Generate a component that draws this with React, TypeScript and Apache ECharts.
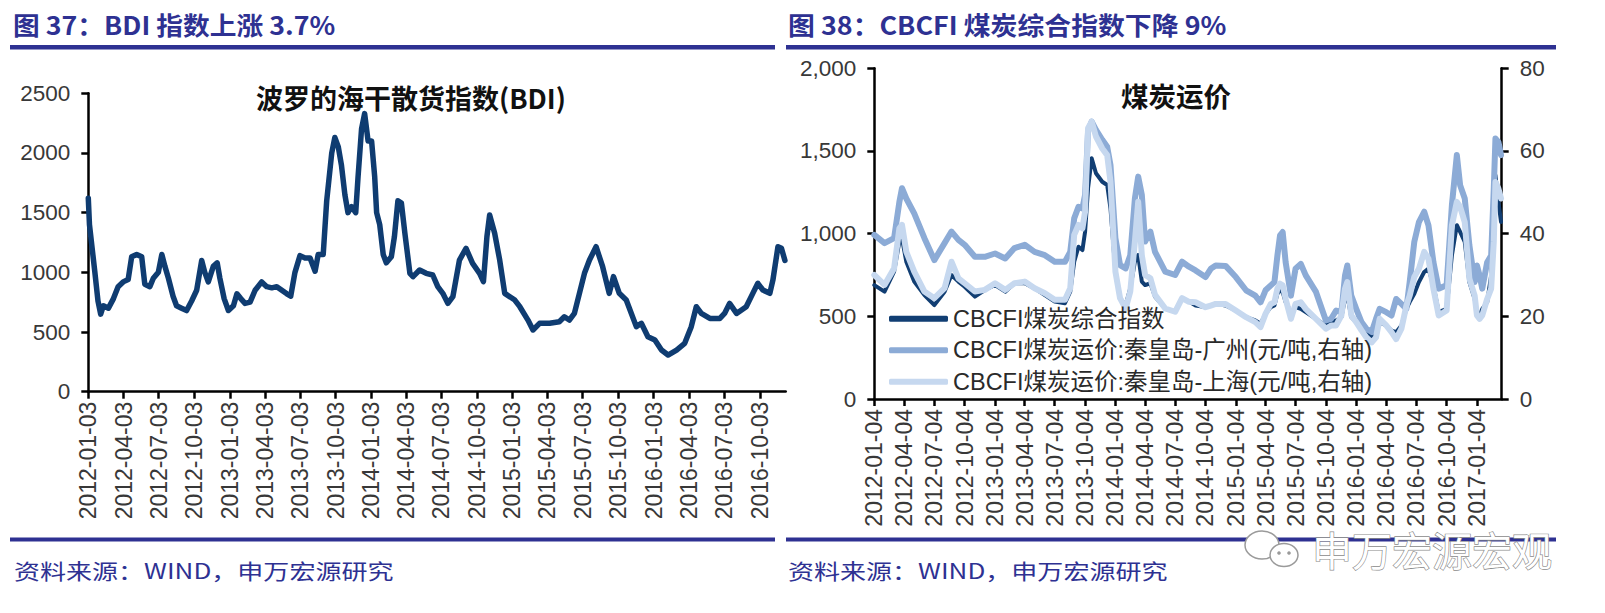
import React, { useEffect, useRef } from "react";
import * as echarts from "echarts";

// ---------------- DATA ----------------
const BDI_TICKS = [
  "2012-01-03", "2012-04-03", "2012-07-03", "2012-10-03",
  "2013-01-03", "2013-04-03", "2013-07-03", "2013-10-03",
  "2014-01-03", "2014-04-03", "2014-07-03", "2014-10-03",
  "2015-01-03", "2015-04-03", "2015-07-03", "2015-10-03",
  "2016-01-03", "2016-04-03", "2016-07-03", "2016-10-03",
];

const BDI_DATES = [
  "2012-01-03", "2012-01-06", "2012-01-13", "2012-01-20", "2012-01-28", "2012-02-04", "2012-02-11", "2012-02-24",
  "2012-03-08", "2012-03-20", "2012-04-02", "2012-04-15", "2012-04-24", "2012-05-07", "2012-05-20", "2012-05-28",
  "2012-06-10", "2012-06-19", "2012-07-02", "2012-07-11", "2012-07-19", "2012-07-28", "2012-08-09", "2012-08-18",
  "2012-08-31", "2012-09-13", "2012-09-26", "2012-10-09", "2012-10-22", "2012-10-30", "2012-11-08", "2012-11-21",
  "2012-12-01", "2012-12-08", "2012-12-19", "2012-12-30",
  "2013-01-12", "2013-01-21", "2013-01-31", "2013-02-11", "2013-02-24", "2013-03-09", "2013-03-26", "2013-04-08",
  "2013-04-21", "2013-05-04", "2013-05-17", "2013-05-30", "2013-06-09", "2013-06-20", "2013-07-03", "2013-07-16",
  "2013-07-29", "2013-08-11", "2013-08-19", "2013-09-01", "2013-09-10", "2013-09-23", "2013-10-01", "2013-10-10",
  "2013-10-18", "2013-10-27", "2013-11-04", "2013-11-13", "2013-11-24", "2013-11-30", "2013-12-09", "2013-12-17",
  "2013-12-26",
  "2014-01-04", "2014-01-12", "2014-01-17", "2014-01-25", "2014-02-03", "2014-02-11", "2014-02-24", "2014-03-04",
  "2014-03-13", "2014-03-22", "2014-03-31", "2014-04-13", "2014-04-21", "2014-05-08", "2014-05-25", "2014-06-11",
  "2014-06-24", "2014-07-07", "2014-07-20", "2014-08-02", "2014-08-19", "2014-09-05", "2014-09-22", "2014-10-10",
  "2014-10-20", "2014-10-29", "2014-11-05", "2014-11-18", "2014-12-01", "2014-12-14",
  "2015-01-09", "2015-01-22", "2015-02-12", "2015-02-25", "2015-03-14", "2015-04-09", "2015-05-04", "2015-05-17",
  "2015-05-30", "2015-06-12", "2015-06-25", "2015-07-08", "2015-07-21", "2015-08-07", "2015-08-24", "2015-09-10",
  "2015-09-21", "2015-10-06", "2015-10-24", "2015-11-19", "2015-12-02", "2015-12-19",
  "2016-01-06", "2016-01-23", "2016-02-09", "2016-03-02", "2016-03-23", "2016-04-09", "2016-04-22", "2016-05-05",
  "2016-05-27", "2016-06-22", "2016-07-04", "2016-07-17", "2016-08-04", "2016-08-29", "2016-09-15", "2016-09-28",
  "2016-10-11", "2016-10-29", "2016-11-06", "2016-11-19", "2016-11-28", "2016-12-07",
];

const BDI_VALUES = [
  1620, 1400, 1200, 1000, 760, 650, 720, 700,
  780, 880, 920, 940, 1130, 1150, 1130, 900,
  880, 950, 1000, 1150, 1050, 950, 800, 720,
  700, 680, 760, 850, 1100, 1000, 920, 1050,
  1080, 950, 780, 680,
  720, 820, 780, 740, 750, 850, 920, 880,
  870, 880, 850, 820, 800, 1000, 1140, 1120,
  1120, 1010, 1150, 1150, 1600, 2000, 2130, 2050,
  1900, 1650, 1500, 1550, 1500, 1800, 2200, 2330,
  2100,
  2100, 1800, 1500, 1400, 1150, 1080, 1130, 1300,
  1600, 1580, 1327, 992, 964, 1020, 992, 978,
  880, 824, 740, 796, 1103, 1201, 1075, 992,
  922, 1299, 1480, 1327, 1103, 824,
  768, 712, 600, 517, 573, 573, 586, 628,
  600, 656, 824, 992, 1103, 1215, 1047, 824,
  964, 824, 768, 545, 573, 461,
  433, 349, 307, 349, 405, 545, 712, 656,
  614, 614, 656, 740, 656, 712, 824, 908,
  852, 824, 936, 1215, 1201, 1100,
];

const CB_TICKS = [
  "2012-01-04", "2012-04-04", "2012-07-04", "2012-10-04",
  "2013-01-04", "2013-04-04", "2013-07-04", "2013-10-04",
  "2014-01-04", "2014-04-04", "2014-07-04", "2014-10-04",
  "2015-01-04", "2015-04-04", "2015-07-04", "2015-10-04",
  "2016-01-04", "2016-04-04", "2016-07-04", "2016-10-04",
  "2017-01-04",
];

const CB_DATES = [
  "2012-01-04", "2012-02-04", "2012-03-04", "2012-03-20", "2012-03-28", "2012-04-10", "2012-05-04", "2012-06-04",
  "2012-07-04", "2012-08-04", "2012-08-25", "2012-09-15", "2012-10-04", "2012-11-04", "2012-12-04",
  "2013-01-04", "2013-02-04", "2013-03-04", "2013-04-04", "2013-05-04", "2013-06-04", "2013-07-04", "2013-08-04",
  "2013-08-20", "2013-09-01", "2013-09-14", "2013-09-26", "2013-10-04", "2013-10-13", "2013-10-24", "2013-11-06",
  "2013-11-25", "2013-12-10", "2013-12-20",
  "2014-01-04", "2014-01-18", "2014-02-04", "2014-02-18", "2014-03-04", "2014-03-14", "2014-03-25", "2014-04-04",
  "2014-04-20", "2014-05-04", "2014-06-04", "2014-07-04", "2014-07-25", "2014-08-15", "2014-09-04", "2014-10-04",
  "2014-10-20", "2014-11-04", "2014-12-04",
  "2015-01-04", "2015-02-04", "2015-03-04", "2015-03-20", "2015-04-04", "2015-04-20", "2015-05-01", "2015-05-10",
  "2015-05-18", "2015-05-26", "2015-06-04", "2015-06-20", "2015-07-04", "2015-07-20", "2015-08-04", "2015-09-04",
  "2015-10-04", "2015-10-20", "2015-11-04", "2015-11-20", "2015-12-01", "2015-12-08", "2015-12-20",
  "2016-01-04", "2016-01-20", "2016-02-04", "2016-02-20", "2016-03-04", "2016-03-15", "2016-04-04", "2016-04-20",
  "2016-05-04", "2016-05-20", "2016-06-04", "2016-06-14", "2016-06-28", "2016-07-12", "2016-07-28", "2016-08-10",
  "2016-08-25", "2016-09-10", "2016-10-04", "2016-10-20", "2016-11-04", "2016-11-14", "2016-11-28", "2016-12-12",
  "2016-12-28",
  "2017-01-04", "2017-01-12", "2017-01-20", "2017-02-04", "2017-02-16", "2017-02-24", "2017-03-01", "2017-03-10",
  "2017-03-18",
];

// CBCFI煤炭综合指数 (left axis)
const CB_COMPOSITE = [
  689, 649, 770, 952, 972, 830, 710, 629, 568, 649, 750, 710, 679, 619, 659,
  689, 649, 700, 700, 669, 629, 589, 579, 649, 830, 921, 901, 1012, 1274, 1456, 1365, 1314, 1294, 1153,
  770, 609, 568, 669, 830, 871, 710, 689, 700, 619, 548, 528, 609, 589, 566, 556, 566, 576, 566,
  535, 495, 475, 455, 515, 556, 566, 636, 657, 646, 586, 525, 556, 545, 525, 485, 444, 465, 475, 495, 606, 626, 495,
  465, 434, 394, 374, 394, 465, 444, 414, 404, 444, 545, 586, 636, 707, 768, 788, 687, 525, 545, 869, 1051, 1010, 950, 707, 606,
  525, 505, 545, 586, 747, 1071, 1354, 1192, 1071,
];

// 秦皇岛-广州 (right axis, 元/吨)
const CB_GZ = [
  39.7, 37.7, 38.9, 47.7, 51, 48.5, 44.9, 38.9, 33.6, 37.7, 40.5, 38.5, 37.3, 34.4, 34.4,
  35.2, 34, 36.5, 37.3, 35.6, 34.8, 33.2, 33.2, 35.6, 43.7, 46.5, 46.1, 49.4, 64.7, 67.1, 65.1, 62.7, 61, 56.6,
  38.9, 32.4, 31.6, 34.8, 48.5, 53.8, 49.4, 38.1, 40.5, 35.6, 30.8, 30, 33.2, 32, 31.1, 29.5, 31.5, 32.3, 32.2,
  29.5, 26.3, 25, 23.4, 26.3, 27.5, 28.3, 34.7, 39.6, 40.4, 33.1, 25, 31.5, 32.7, 29.9, 25.9, 19, 19.4, 21.4, 21, 29.9, 32.3, 25,
  21.8, 18.6, 17, 16.2, 19.4, 21.8, 21, 20.2, 24.2, 23, 21.8, 28.3, 38, 42.8, 45.3, 42, 33.1, 26.7, 27.5, 46.9, 59, 51.7, 48.5, 37.2, 28.3,
  32.3, 29.9, 26.7, 33.1, 34.7, 50.9, 63, 62.2, 59,
];

// 秦皇岛-上海 (right axis, 元/吨)
const CB_SH = [
  30, 27.6, 31.6, 41.3, 42.1, 35.6, 30.8, 26, 24.4, 26.8, 33.2, 29.2, 28, 26, 26.4,
  28, 26.4, 28, 28.4, 26.8, 25.6, 24, 24, 26.8, 39.7, 42.1, 41.3, 45.3, 65.5, 67.1, 63.5, 60.6, 59, 52.6,
  30.8, 24.4, 21.9, 26, 38.1, 47.7, 34.8, 30, 29.2, 25.2, 21.9, 21.1, 24.4, 23.5, 23.4, 22.2, 22.6, 23, 23,
  21.4, 19.8, 18.6, 17.4, 20.6, 23, 23.4, 26.7, 27.9, 27.5, 24.2, 19.4, 23, 23.4, 21.8, 19.4, 17, 17.8, 17.8, 20.2, 26.7, 28.3, 20.2,
  18.6, 16.6, 14.9, 13.7, 14.9, 19.4, 17.8, 16.2, 14.5, 17, 22.6, 25, 29.5, 31.5, 35.6, 33.9, 26.7, 20.2, 21.4, 42, 47.7, 46.5, 42.8, 29.1, 25,
  20.2, 19.4, 20.2, 24.2, 26.7, 38, 52.5, 50.9, 48.5,
];

const SERIES_NAMES = [
  "CBCFI煤炭综合指数",
  "CBCFI煤炭运价:秦皇岛-广州(元/吨,右轴)",
  "CBCFI煤炭运价:秦皇岛-上海(元/吨,右轴)",
];

// ---------------- HELPERS ----------------
function ts(d: string): number {
  const [y, m, dd] = d.split("-").map(Number);
  return new Date(y, m - 1, dd).getTime();
}
function fmt(v: number): string {
  const d = new Date(v);
  const p = (n: number) => (n < 10 ? "0" + n : "" + n);
  return d.getFullYear() + "-" + p(d.getMonth() + 1) + "-" + p(d.getDate());
}
function pairs(dates: string[], vals: number[]) {
  return dates.map((d, i) => [ts(d), vals[i]]);
}

const LATIN = '"Liberation Sans", Arial, "Noto Sans CJK SC", sans-serif';
const CJK = '"Noto Sans CJK SC", "Liberation Sans", sans-serif';
const NAVY = "#2e3192";
const AXIS_LINE = { color: "#000", width: 2.5 };
const LABEL_COLOR = "#383838";

// date axis drawn as a numeric (timestamp) axis so that tick dates can be given exactly
function dateAxis(gridIndex: number, ticks: string[], min: string, max: string) {
  const tv = ticks.map(ts);
  return {
    type: "value",
    gridIndex,
    min: ts(min),
    max: ts(max),
    axisLine: { show: true, onZero: false, lineStyle: AXIS_LINE },
    axisTick: { show: true, customValues: tv, length: 7, lineStyle: AXIS_LINE },
    axisLabel: {
      customValues: tv,
      rotate: 90,
      margin: 10,
      fontSize: 23,
      color: LABEL_COLOR,
      fontFamily: LATIN,
      hideOverlap: false,
      showMinLabel: true,
      showMaxLabel: true,
      formatter: (v: number) => fmt(v),
    },
    splitLine: { show: false },
  };
}

function valueAxis(gridIndex: number, max: number, interval: number, position: string, comma: boolean) {
  return {
    type: "value",
    gridIndex,
    position,
    min: 0,
    max,
    interval,
    axisLine: { show: true, onZero: false, lineStyle: AXIS_LINE },
    axisTick: { show: true, length: 7, lineStyle: AXIS_LINE },
    axisLabel: {
      margin: 18,
      fontSize: 22.5,
      color: LABEL_COLOR,
      fontFamily: LATIN,
      formatter: (v: number) => (comma ? v.toLocaleString("en-US") : String(v)),
    },
    splitLine: { show: false },
  };
}

export default function App() {
  const ref = useRef<HTMLDivElement>(null);

  useEffect(() => {
    if (!ref.current) return;
    const chart = echarts.init(ref.current, undefined, { renderer: "svg" });

    const option: any = {
      animation: false,
      backgroundColor: "#ffffff",
      grid: [
        { left: 88.3, right: 819.3, top: 93.3, bottom: 221.3 },
        { left: 874.3, right: 103.3, top: 68.3, bottom: 214 },
      ],
      xAxis: [
        dateAxis(0, BDI_TICKS, "2012-01-03", "2016-12-09"),
        dateAxis(1, CB_TICKS, "2012-01-04", "2017-03-20"),
      ],
      yAxis: [
        valueAxis(0, 2500, 500, "left", false),
        valueAxis(1, 2000, 500, "left", true),
        valueAxis(1, 80, 20, "right", false),
      ],
      legend: {
        orient: "vertical",
        left: 884,
        top: 302,
        itemWidth: 59,
        itemHeight: 6,
        itemGap: 8,
        icon: "roundRect",
        data: SERIES_NAMES,
        textStyle: { fontSize: 23.5, lineHeight: 23.5, color: "#2a2a2a", fontFamily: LATIN },
      },
      series: [
        {
          name: "BDI",
          type: "line",
          xAxisIndex: 0,
          yAxisIndex: 0,
          data: pairs(BDI_DATES, BDI_VALUES),
          showSymbol: false,
          lineStyle: { color: "#0f3c71", width: 5.5, join: "round", cap: "round" },
          itemStyle: { color: "#0f3c71" },
        },
        {
          name: SERIES_NAMES[0],
          type: "line",
          xAxisIndex: 1,
          yAxisIndex: 1,
          data: pairs(CB_DATES, CB_COMPOSITE),
          showSymbol: false,
          lineStyle: { color: "#113e73", width: 4, join: "round", cap: "round" },
          itemStyle: { color: "#113e73" },
        },
        {
          name: SERIES_NAMES[1],
          type: "line",
          xAxisIndex: 1,
          yAxisIndex: 2,
          data: pairs(CB_DATES, CB_GZ),
          showSymbol: false,
          lineStyle: { color: "#8cabd6", width: 6, join: "round", cap: "round" },
          itemStyle: { color: "#8cabd6" },
        },
        {
          name: SERIES_NAMES[2],
          type: "line",
          xAxisIndex: 1,
          yAxisIndex: 2,
          data: pairs(CB_DATES, CB_SH),
          showSymbol: false,
          lineStyle: { color: "#c6d8ef", width: 6, join: "round", cap: "round" },
          itemStyle: { color: "#c6d8ef" },
        },
      ],
      graphic: [
        {
          type: "text", x: 13, y: 24, scaleX: 1.07,
          style: { text: "图 37：BDI 指数上涨 3.7%", fill: NAVY, fontSize: 25, fontWeight: "bold", fontFamily: CJK, align: "left", verticalAlign: "middle" },
        },
        {
          type: "text", x: 788, y: 24, scaleX: 1.075,
          style: { text: "图 38：CBCFI 煤炭综合指数下降 9%", fill: NAVY, fontSize: 25, fontWeight: "bold", fontFamily: CJK, align: "left", verticalAlign: "middle" },
        },
        { type: "rect", shape: { x: 10, y: 45, width: 765, height: 4.5 }, style: { fill: NAVY } },
        { type: "rect", shape: { x: 786, y: 45, width: 770, height: 4.5 }, style: { fill: NAVY } },
        { type: "rect", shape: { x: 10, y: 537.5, width: 765, height: 4 }, style: { fill: NAVY } },
        { type: "rect", shape: { x: 786, y: 537.5, width: 770, height: 4 }, style: { fill: NAVY } },
        {
          type: "text", x: 411, y: 97,
          style: { text: "波罗的海干散货指数(BDI)", fill: "#111", fontSize: 27, fontWeight: "bold", fontFamily: CJK, align: "center", verticalAlign: "middle" },
        },
        {
          type: "text", x: 1176, y: 95,
          style: { text: "煤炭运价", fill: "#111", fontSize: 27.5, fontWeight: "bold", fontFamily: CJK, align: "center", verticalAlign: "middle" },
        },
        {
          type: "text", x: 14, y: 570, scaleX: 1.24,
          style: { text: "资料来源：WIND，申万宏源研究", fill: NAVY, fontSize: 21, fontFamily: CJK, align: "left", verticalAlign: "middle" },
        },
        {
          type: "text", x: 788, y: 570, scaleX: 1.24,
          style: { text: "资料来源：WIND，申万宏源研究", fill: NAVY, fontSize: 21, fontFamily: CJK, align: "left", verticalAlign: "middle" },
        },
        {
          type: "group", z: 100,
          children: [
            { type: "ellipse", shape: { cx: 1262, cy: 545, rx: 17, ry: 14 }, style: { fill: "#fff", stroke: "#9a9a9a", lineWidth: 1.5 } },
            { type: "ellipse", shape: { cx: 1284, cy: 555, rx: 14, ry: 11.5 }, style: { fill: "#fff", stroke: "#9a9a9a", lineWidth: 1.5 } },
            { type: "circle", shape: { cx: 1279, cy: 553, r: 1.8 }, style: { fill: "#9a9a9a" } },
            { type: "circle", shape: { cx: 1289, cy: 553, r: 1.8 }, style: { fill: "#9a9a9a" } },
            {
              type: "text", x: 1312, y: 549,
              style: { text: "申万宏源宏观", fill: "#ffffff", stroke: "#8a8a8a", lineWidth: 1.3, fontSize: 40, fontFamily: CJK, align: "left", verticalAlign: "middle" },
            },
          ],
        },
      ],
    };

    chart.setOption(option);
    return () => chart.dispose();
  }, []);

  return (
    <div
      ref={ref}
      style={{ position: "absolute", left: 0, top: 0, width: 1605, height: 613, background: "#fff" }}
    />
  );
}
